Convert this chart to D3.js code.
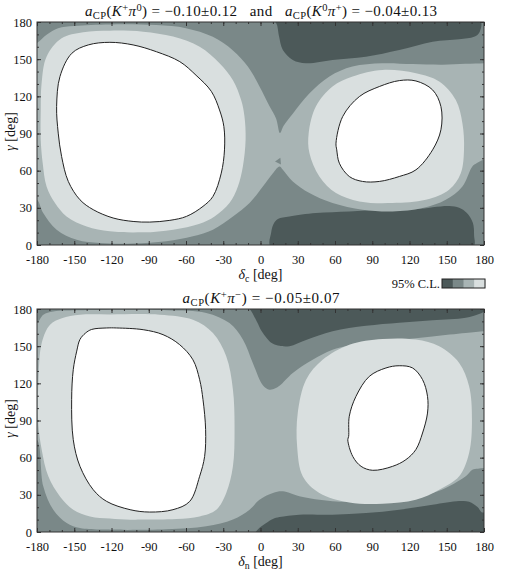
<!DOCTYPE html>
<html><head><meta charset="utf-8">
<script src="https://cdn.jsdelivr.net/npm/d3@7"></script>
<style>
body{margin:0;background:#fff}
svg{display:block}
text{font-family:"Liberation Serif","DejaVu Serif",serif;fill:#111}
</style>
</head><body>
<svg id="c" width="510" height="572"></svg>
<script>
// ---------- data (delta [deg], gamma [deg]) ----------
const xTicks = [-180,-150,-120,-90,-60,-30,0,30,60,90,120,150,180];
const yTicks = [0,30,60,90,120,150,180];
const levelColors = ["#4c5959","#7a8888","#a8b4b4","#d9dfdf","#ffffff"];
const legendLabel = "95% C.L.";

// top panel: aCP(K+pi0) and aCP(K0pi+)
const topDarkUpper = [[12,182],[13.5,177],[15,168],[18,157.4],[26,149.4],[36.7,146.7],[58,149.4],[84.9,152],[111.8,157.4],[138.6,164.1],[160,166],[172,168],[176.5,172],[176.5,182]];
const topDarkLower = [[8.6,-2],[8.6,10],[10.5,17],[14,21],[23.3,23.1],[44.7,25.8],[71.5,27.1],[98.3,28.5],[125.1,29],[151.9,31.5],[160,30],[166,26],[171,18],[172,8],[171,-2]];
const topLightMid = [[-185,160],[-180,163],[-172,170],[-163,175],[-150,176.8],[-121,178],[-84,177.5],[-60,175],[-38.4,168],[-22.2,157],[-10.2,144],[-0.8,128],[7.3,112],[12.6,102],[15.7,90.4],[18.5,96],[26,106],[39.5,122.5],[55.5,136],[74,144],[98,146.7],[122.5,146],[146.5,145.5],[165,146.2],[180,146.7],[185,147],[185,68.5],[180,68.8],[174,66],[170.6,63.4],[162.6,47.3],[149.2,36.5],[130.5,29.8],[106.3,27.1],[82.2,28.5],[58,33.9],[39.4,41.9],[26,51.3],[18,60.7],[15.3,63.4],[10,58],[1.9,47.3],[-8.8,33.9],[-22.2,23],[-38.3,12.4],[-54.4,7],[-75.8,3],[-102.6,1.2],[-129.4,1.6],[-148,4.3],[-164.2,12.4],[-175,25.8],[-180,36.5],[-185,37]];
const topNeckMid = [[11.7,67.5],[16,70.5],[16.5,65]];
const topLightestL = [[-176.3,130.6],[-172.3,152],[-160.2,166.8],[-142.8,171.7],[-121.3,173],[-94.5,172.2],[-70.4,168.2],[-49,160],[-33,146.7],[-22.2,133],[-15.6,117],[-12.9,103.7],[-12,85],[-14.2,63.4],[-18.2,47.3],[-25,33.9],[-37,23.1],[-49,17.2],[-70.4,12.4],[-94.5,10.2],[-121.3,11],[-140,15],[-156.2,23.1],[-165.5,33.9],[-172.3,47.3],[-175.4,66],[-177,85],[-177,109]];
const topLightestR = [[98.3,141.3],[74.2,136],[58,128],[44.7,112],[38.8,90.3],[39.4,74.2],[47.4,55.3],[60.8,41.9],[79.6,35.2],[106.3,33.9],[133.1,36.5],[151.9,44.6],[161.3,58],[163.9,76.8],[162.6,98.3],[157.3,117],[143.9,132],[125.2,138.6]];
const topWhiteL = [[-164.2,111.8],[-161.5,136],[-152,154.7],[-138.7,161.5],[-121.3,163.6],[-102.6,161.5],[-83.8,156],[-65,148],[-51.9,137],[-39.6,124],[-33,109],[-29.5,95.6],[-29,76.8],[-31.6,58],[-38.3,39.2],[-46.3,31.2],[-59.6,23.1],[-73,19.9],[-89.2,18.5],[-102.6,19],[-118.7,21.8],[-134.7,28.5],[-145.4,36.5],[-154.8,51.3],[-160.2,71.5],[-162.9,90.3]];
const topWhiteR = [[60.8,82.2],[66.2,103.7],[79.6,119.8],[95.7,127.9],[111.8,132.7],[125.2,132.4],[138.6,125.2],[145.3,111.8],[145.3,93],[138.6,76.8],[125.2,60.7],[111.8,55.3],[95.7,51.3],[82.2,51.3],[71.5,55.3],[63.5,66],[61.4,76.8]];

// bottom panel: aCP(K+pi-)
const botDarkTop = [[-12,182],[-8.8,180],[-3,170],[1,162],[4.6,157],[9,152.5],[14,150.5],[23.3,150],[36.7,155],[58,162],[85,166.5],[111.7,169],[138.5,171],[165.3,173],[176,176],[180,178],[182,182]];
const botDarkBottom = [[-5,-2],[-3.5,0.5],[0,4],[4.6,7.3],[10,10.5],[15.3,12.1],[31.3,14],[58,14],[85,15.3],[111.7,18],[138.5,22],[160,25],[168,24.5],[175,20],[178,16],[182,15],[182,-2]];
const botLightMid = [[-185,168],[-180,168.7],[-174.9,175.4],[-166.9,178],[-142.8,179],[-75.8,179],[-43.7,176.8],[-25,168.6],[-14.2,155.3],[-6.2,136.5],[1.9,118.5],[7.2,114.9],[12,116],[15.3,118],[26,128.4],[42,139],[58,147.2],[85,152.5],[111.7,155.2],[138.5,157.9],[165.3,160.6],[180,162],[185,162],[185,51.6],[180,51.6],[175,51],[170.6,50.3],[165.3,44.9],[151.9,36.9],[138.5,31.5],[111.7,27.4],[85,24.8],[58,24.8],[31.3,28.8],[18,32.8],[10,31.5],[-0.8,26],[-8.8,18],[-22.2,10],[-43.7,4.6],[-75.8,2.2],[-129.4,2],[-145.4,3.2],[-156.1,7.3],[-166.9,18],[-174.9,36.8],[-180,74.5],[-185,75]];
const botLightestL = [[-145.4,175.4],[-121.3,175.6],[-81.2,175.4],[-54.4,171.3],[-38.3,160.6],[-27.6,141.8],[-22.2,114.9],[-20.9,82.6],[-22.2,53],[-27.6,31.5],[-35.6,18],[-49,12.6],[-67.8,10.5],[-94.5,10],[-105,9.9],[-121.3,10.8],[-137.3,12.6],[-150.8,18],[-161.5,28.7],[-170.9,44.9],[-176.2,66.4],[-179,88],[-178.9,120.3],[-176.2,152.5],[-169.5,167.3],[-160,172.5]];
const botLightestR = [[98.3,155.8],[71.5,151.2],[50,139],[36.7,122.9],[30,96],[29.5,69],[34,45],[47.4,31.5],[71.5,23.9],[98.3,22.9],[125.1,26.1],[143.9,34.2],[160,45],[168,63.8],[170.3,90.7],[168,117.6],[160,136.5],[143.9,149.9],[125.1,155.3]];
const botWhiteL = [[-152.1,106.8],[-150.8,131],[-148,146],[-145.4,155.4],[-141,160.5],[-136,163.5],[-123.9,164.7],[-116,164.7],[-94.5,163.3],[-78.5,159.3],[-65.1,151.2],[-54.4,139],[-49,122.9],[-46.3,106.8],[-44.2,82.6],[-45,61],[-49,45],[-57,24.7],[-70.5,18],[-89.2,16.1],[-105,18],[-123.9,24.7],[-134.7,34.1],[-145.4,53],[-150.8,74.5]];
const botWhiteR = [[71,77.2],[71.5,93.4],[76.9,109.5],[87.6,125.6],[101,132.4],[111.7,134.2],[122.5,132.4],[130.5,123],[134.5,109.5],[134.5,96],[130.5,79.9],[125.1,66.5],[117.1,58.4],[106.4,53],[90.4,49.8],[81,53],[74.3,61],[70.3,74.5]];

// ---------- drawing ----------
const svg = d3.select("#c");
const defs = svg.append("defs");
const x = d3.scaleLinear().domain([-180,180]).range([37,484]);

function rich(sel, parts){
  let shift = 0;
  parts.forEach(([t, s]) => {
    const ts = sel.append("tspan").text(t);
    let target = 0, size = null;
    if (s === 'sub') { target = 3; size = "0.7em"; }
    if (s === 'sup') { target = -5; size = "0.7em"; }
    if (s === 'i') ts.attr("font-style","italic");
    if (size) ts.attr("font-size", size);
    if (target !== shift) { ts.attr("dy", target - shift); shift = target; }
  });
}

function panel(id, top, bottom, layers, xlabelSub, title, titleLen){
  const y = d3.scaleLinear().domain([0,180]).range([bottom, top]);
  defs.append("clipPath").attr("id", id).append("rect")
    .attr("x", x(-180)).attr("y", y(180)).attr("width", x(180)-x(-180)).attr("height", y(0)-y(180));
  const g = svg.append("g");
  const cg = g.append("g").attr("clip-path", `url(#${id})`);
  cg.append("rect").attr("x", x(-180)).attr("y", y(180))
    .attr("width", x(180)-x(-180)).attr("height", y(0)-y(180)).attr("fill", levelColors[1]);
  const smooth = d3.line().x(d=>x(d[0])).y(d=>y(d[1])).curve(d3.curveCatmullRomClosed.alpha(0.5));
  const straight = d3.line().x(d=>x(d[0])).y(d=>y(d[1])).curve(d3.curveLinearClosed);
  layers.forEach(L => L.polys.forEach(p => {
    cg.append("path").attr("d", (L.linear ? straight : smooth)(p))
      .attr("fill", L.color)
      .attr("stroke", L.stroke || "none").attr("stroke-width", L.stroke ? 1 : 0);
  }));

  const fmt = d => String(d);
  const style = a => { a.select(".domain").remove(); a.selectAll("line").attr("stroke","#333");
    a.selectAll("text").attr("font-size",12.5).attr("font-family",'"Liberation Serif","DejaVu Serif",serif').attr("fill","#111"); };
  const minorX = d3.range(-180,181,10), minorY = d3.range(0,181,10);
  g.append("g").attr("transform",`translate(0,${bottom})`).call(d3.axisBottom(x).tickValues(minorX).tickSize(-2).tickFormat("")).call(style);
  g.append("g").attr("transform",`translate(0,${top})`).call(d3.axisTop(x).tickValues(minorX).tickSize(-2).tickFormat("")).call(style);
  g.append("g").attr("transform",`translate(0,${bottom})`).call(d3.axisBottom(x).tickValues(xTicks).tickSize(-4).tickPadding(10).tickFormat(fmt)).call(style);
  g.append("g").attr("transform",`translate(0,${top})`).call(d3.axisTop(x).tickValues(xTicks).tickSize(-4).tickFormat("")).call(style);
  g.append("g").attr("transform",`translate(${x(-180)},0)`).call(d3.axisLeft(y).tickValues(minorY).tickSize(-2).tickFormat("")).call(style);
  g.append("g").attr("transform",`translate(${x(180)},0)`).call(d3.axisRight(y).tickValues(minorY).tickSize(-2).tickFormat("")).call(style);
  g.append("g").attr("transform",`translate(${x(-180)},0)`).call(d3.axisLeft(y).tickValues(yTicks).tickSize(-4).tickPadding(5).tickFormat(fmt)).call(style);
  g.append("g").attr("transform",`translate(${x(180)},0)`).call(d3.axisRight(y).tickValues(yTicks).tickSize(-4).tickFormat("")).call(style);

  g.append("rect").attr("x", x(-180)).attr("y", y(180)).attr("width", x(180)-x(-180)).attr("height", y(0)-y(180))
    .attr("fill","none").attr("stroke","#333").attr("stroke-width",1);

  const xl = g.append("text").attr("x", x(0)).attr("y", bottom + 34).attr("text-anchor","middle").attr("font-size",14);
  rich(xl, [["δ",'i'],[xlabelSub,'sub'],["  [deg]",'r']]);
  const yl = g.append("text").attr("transform",`translate(15,${(top+bottom)/2 - 2}) rotate(-90)`).attr("text-anchor","middle").attr("font-size",14);
  rich(yl, [["γ",'i'],["  [deg]",'r']]);
  const tt = g.append("text").attr("x", 261).attr("y", top - 6).attr("text-anchor","middle").attr("font-size",15)
    .attr("xml:space","preserve").attr("textLength", titleLen).attr("lengthAdjust","spacing");
  rich(tt, title);
}

panel("clipTop", 22, 245, [
  {color: levelColors[0], polys: [topDarkUpper, topDarkLower]},
  {color: levelColors[2], polys: [topLightMid]},
  {color: levelColors[1], polys: [topNeckMid], linear: true},
  {color: levelColors[3], polys: [topLightestL, topLightestR]},
  {color: levelColors[4], polys: [topWhiteL, topWhiteR], stroke: "#222"}
], "c", [["a",'i'],["CP",'sub'],["(",'r'],["K",'i'],["+",'sup'],["π",'i'],["0",'sup'],[") = −0.10±0.12   and   ",'r'],
         ["a",'i'],["CP",'sub'],["(",'r'],["K",'i'],["0",'sup'],["π",'i'],["+",'sup'],[") = −0.04±0.13",'r']], 352);

panel("clipBot", 309, 532, [
  {color: levelColors[0], polys: [botDarkTop, botDarkBottom]},
  {color: levelColors[2], polys: [botLightMid]},
  {color: levelColors[3], polys: [botLightestL, botLightestR]},
  {color: levelColors[4], polys: [botWhiteL, botWhiteR], stroke: "#222"}
], "n", [["a",'i'],["CP",'sub'],["(",'r'],["K",'i'],["+",'sup'],["π",'i'],["−",'sup'],[") = −0.05±0.07",'r']], 157);

// legend
const lg = svg.append("g");
const lx = d3.scaleBand().domain(d3.range(4)).range([442,485]);
lg.selectAll("rect.b").data(levelColors.slice(0,4)).join("rect").attr("class","b")
  .attr("x",(d,i)=>lx(i)).attr("y",279).attr("width",lx.bandwidth()+0.5).attr("height",9).attr("fill",d=>d);
lg.append("rect").attr("x",442).attr("y",279).attr("width",43).attr("height",9).attr("fill","none").attr("stroke","#222").attr("stroke-width",1);
lg.append("text").attr("x",440).attr("y",288).attr("text-anchor","end").attr("font-size",12.5).text(legendLabel);
</script>
</body></html>
